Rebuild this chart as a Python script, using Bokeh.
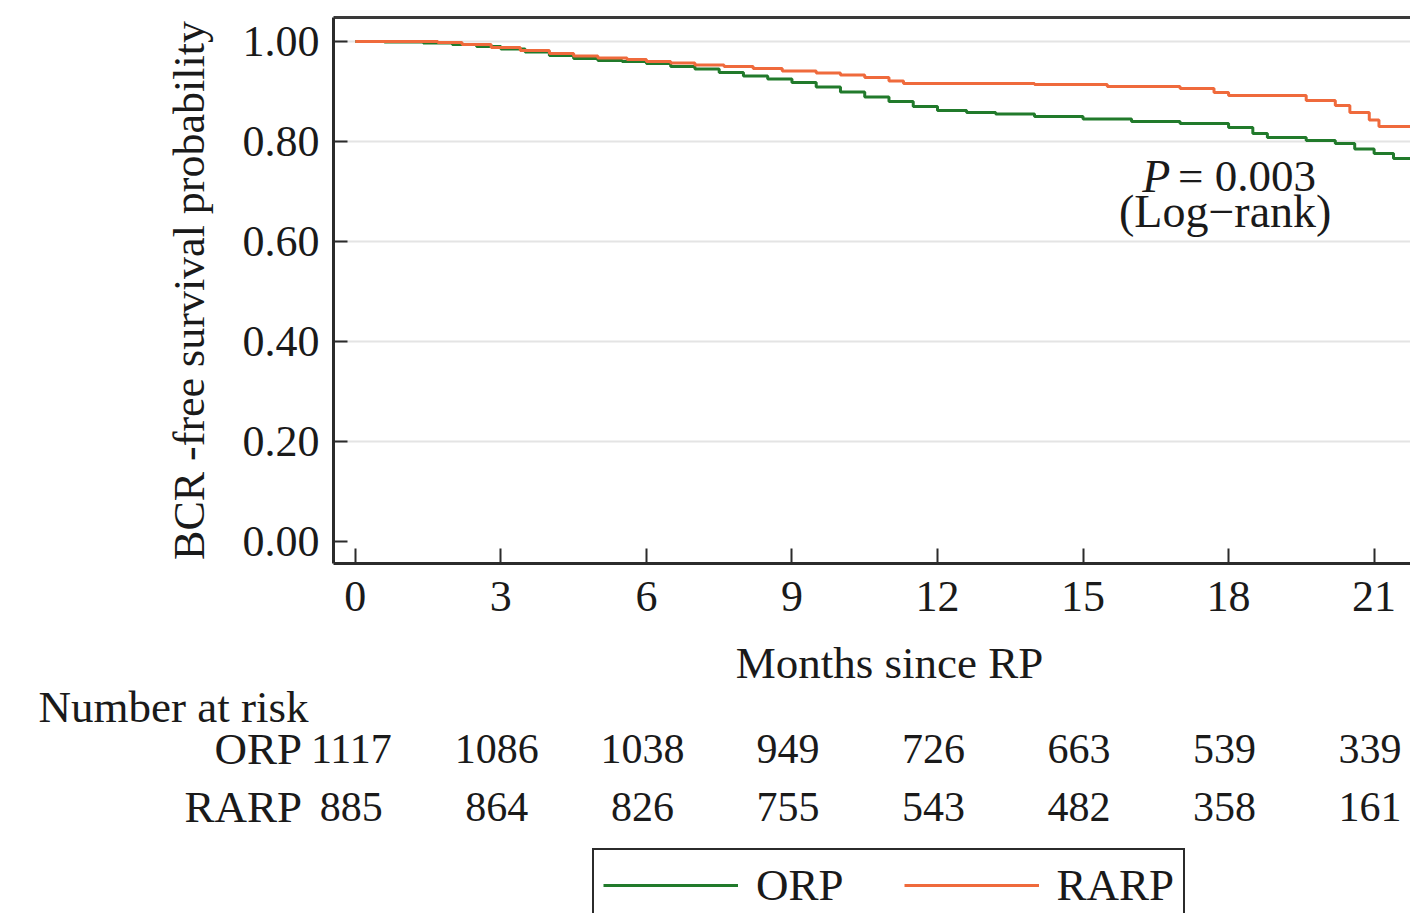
from bokeh.plotting import figure
from bokeh.models import (Range1d, FixedTicker, LinearAxis, Legend, LegendItem,
                          PrintfTickFormatter, ColumnDataSource)
from bokeh.layouts import column
from bokeh.core.properties import value
from bokeh.embed import file_html
from bokeh.resources import INLINE

# Kaplan-Meier estimates of BCR-free survival (months since RP)
orp_time = [0, 0.6, 1.4, 2.0, 2.5, 3.0, 3.5, 4.0, 4.5, 5.0, 5.5, 6.0, 6.5, 7.0,
            7.5, 8.0, 8.5, 9.0, 9.5, 10.0, 10.5, 11.0, 11.5, 12.0, 12.6, 13.2,
            14.0, 15.0, 16.0, 17.0, 18.0, 18.5, 18.8, 19.6, 20.2, 20.6, 21.0,
            21.4, 22.5]
orp_surv = [1.0, 0.999, 0.997, 0.994, 0.990, 0.985, 0.979, 0.972, 0.966, 0.962,
            0.960, 0.956, 0.950, 0.945, 0.938, 0.931, 0.925, 0.918, 0.909, 0.899,
            0.889, 0.880, 0.870, 0.862, 0.858, 0.855, 0.850, 0.845, 0.840, 0.836,
            0.828, 0.816, 0.808, 0.802, 0.796, 0.785, 0.776, 0.766, 0.766]

rarp_time = [0, 1.7, 2.2, 2.8, 3.4, 4.0, 4.5, 5.0, 5.6, 6.0, 6.5, 7.0, 7.6, 8.2,
             8.8, 9.5, 10.0, 10.5, 11.0, 11.3, 14.0, 15.5, 17.0, 17.7, 18.0,
             19.6, 20.2, 20.5, 20.9, 21.1, 22.5]
rarp_surv = [1.0, 0.998, 0.994, 0.988, 0.982, 0.976, 0.971, 0.967, 0.964, 0.960,
             0.957, 0.953, 0.950, 0.946, 0.941, 0.937, 0.933, 0.928, 0.921, 0.916,
             0.914, 0.910, 0.906, 0.898, 0.892, 0.882, 0.872, 0.858, 0.843, 0.830,
             0.830]

# Number at risk table
risk_times = [0, 3, 6, 9, 12, 15, 18, 21]
orp_at_risk = [1117, 1086, 1038, 949, 726, 663, 539, 339]
rarp_at_risk = [885, 864, 826, 755, 543, 482, 358, 161]

x_ticks = [0, 3, 6, 9, 12, 15, 18, 21]
y_ticks = [0.0, 0.2, 0.4, 0.6, 0.8, 1.0]
p_value_text = "= 0.003"
test_name = "(Log\u2212rank)"

ORP_COLOR = "#217a2b"
RARP_COLOR = "#ef6a3c"
AXIS_COLOR = "#2b2b2b"
TEXT_COLOR = "#1a1a1a"
FONT = "Liberation Serif"
FS_TICK = "44px"
FS_WORD = "45px"
FS_NUM = "42px"
FS_NOTE = "46px"

W = 1410
LEFT = 333
TOP_H = 634
X_START, X_END = -0.45, 21.75
PPM = (W - LEFT) / (X_END - X_START)   # pixels per month

# ---- survival plot -------------------------------------------------------
top = figure(width=W, height=TOP_H, x_range=Range1d(X_START, X_END),
             y_range=Range1d(-0.044, 1.048), output_backend="svg",
             toolbar_location=None, min_border_left=LEFT, min_border_right=0,
             min_border_top=17, min_border_bottom=TOP_H - 563,
             outline_line_color=None,
             background_fill_color="white", border_fill_color="white",
             frame_align=False)

top.xgrid.visible = False
top.ygrid.ticker = FixedTicker(ticks=[0.2, 0.4, 0.6, 0.8, 1.0])
top.ygrid.grid_line_color = "#e4e4e4"
top.ygrid.grid_line_width = 2

xa = top.xaxis[0]
xa.ticker = FixedTicker(ticks=x_ticks)
xa.major_tick_in = 15
xa.major_tick_out = 0
xa.minor_tick_line_color = None
xa.major_tick_line_width = 2
xa.axis_line_width = 3
xa.axis_line_color = AXIS_COLOR
xa.major_tick_line_color = AXIS_COLOR
xa.major_label_text_font = FONT
xa.major_label_text_font_size = FS_TICK
xa.major_label_text_color = TEXT_COLOR
xa.major_label_standoff = 18

ya = top.yaxis[0]
ya.ticker = FixedTicker(ticks=y_ticks)
ya.formatter = PrintfTickFormatter(format="%.2f")
ya.major_tick_in = 14
ya.major_tick_out = 0
ya.minor_tick_line_color = None
ya.major_tick_line_width = 2
ya.axis_line_width = 3
ya.axis_line_color = AXIS_COLOR
ya.major_tick_line_color = AXIS_COLOR
ya.major_label_text_font = FONT
ya.major_label_text_font_size = FS_TICK
ya.major_label_text_color = TEXT_COLOR
ya.major_label_standoff = 14
ya.axis_label = "BCR -free survival probability"
ya.axis_label_text_font = FONT
ya.axis_label_text_font_size = "44px"
ya.axis_label_text_font_style = "normal"
ya.axis_label_text_color = TEXT_COLOR
ya.axis_label_standoff = 26

# frame line along the top
top_axis = LinearAxis(ticker=FixedTicker(ticks=[]), axis_line_width=3,
                      axis_line_color="#3a3a3a", major_label_text_font_size="0px",
                      major_tick_line_color=None, minor_tick_line_color=None)
top.add_layout(top_axis, "above")

orp_src = ColumnDataSource(dict(t=orp_time, s=orp_surv))
rarp_src = ColumnDataSource(dict(t=rarp_time, s=rarp_surv))
top.step("t", "s", source=orp_src, mode="after", line_color=ORP_COLOR, line_width=3)
top.step("t", "s", source=rarp_src, mode="after", line_color=RARP_COLOR, line_width=3)

# log-rank annotation
top.text(x=[16.22], y=[0.731], text=["P"], text_font=value(FONT), text_font_size=FS_NOTE,
         text_font_style="italic", text_baseline="middle", text_align="left",
         text_color=TEXT_COLOR)
top.text(x=[16.96], y=[0.731], text=[p_value_text], text_font=value(FONT),
         text_font_size="45px", text_baseline="middle", text_align="left",
         text_color=TEXT_COLOR)
top.text(x=[17.93], y=[0.660], text=[test_name], text_font=value(FONT),
         text_font_size=FS_NOTE, text_baseline="middle", text_align="center",
         text_color=TEXT_COLOR)

# ---- axis title, number-at-risk table and legend ------------------------
LOW_H = 913 - TOP_H
low = figure(width=W, height=LOW_H,
             x_range=Range1d(X_START - LEFT / PPM, X_END),
             y_range=Range1d(LOW_H, 0), output_backend="svg",
             toolbar_location=None, min_border=0, min_border_left=0,
             min_border_right=0, min_border_top=0, min_border_bottom=0,
             outline_line_color=None, x_axis_type=None, y_axis_type=None,
             background_fill_color="white", border_fill_color="white",
             frame_align=False)
low.grid.visible = False

def put(x, y, txt, align, size):
    low.text(x=[x], y=[y], text=[txt], text_font=value(FONT), text_font_size=size,
             text_align=align, text_baseline="middle", text_color=TEXT_COLOR)

put(11.01, 28, "Months since RP", "center", FS_WORD)
put(X_START - (LEFT - 38) / PPM, 72, "Number at risk", "left", FS_WORD)
put(-1.1, 114, "ORP", "right", FS_WORD)
put(-1.1, 172, "RARP", "right", FS_WORD)

low.text(x=risk_times, y=[114] * len(risk_times), text=[str(v) for v in orp_at_risk],
         text_font=value(FONT), text_font_size=FS_NUM, text_align="center",
         text_baseline="middle", text_color=TEXT_COLOR, x_offset=-4)
low.text(x=risk_times, y=[172] * len(risk_times), text=[str(v) for v in rarp_at_risk],
         text_font=value(FONT), text_font_size=FS_NUM, text_align="center",
         text_baseline="middle", text_color=TEXT_COLOR, x_offset=-4)

# legend keys: line renderers holding no visible point
nan = float("nan")
key_orp = low.line(x=[nan], y=[nan], line_color=ORP_COLOR, line_width=3)
key_rarp = low.line(x=[nan], y=[nan], line_color=RARP_COLOR, line_width=3)
legend = Legend(items=[LegendItem(label="ORP", renderers=[key_orp]),
                       LegendItem(label="RARP", renderers=[key_rarp])],
                orientation="horizontal", location=(592, -9),
                glyph_width=135, glyph_height=40, label_height=40,
                label_standoff=18, spacing=60, padding=9, margin=0,
                label_text_font=FONT, label_text_font_size=FS_WORD,
                label_text_color=TEXT_COLOR,
                border_line_color="#2b2b2b", border_line_width=2,
                border_line_alpha=1.0,
                background_fill_color="white", background_fill_alpha=1.0)
low.add_layout(legend, "center")

layout = column(top, low, spacing=0)
open("out.html", "w").write(file_html(layout, INLINE))
